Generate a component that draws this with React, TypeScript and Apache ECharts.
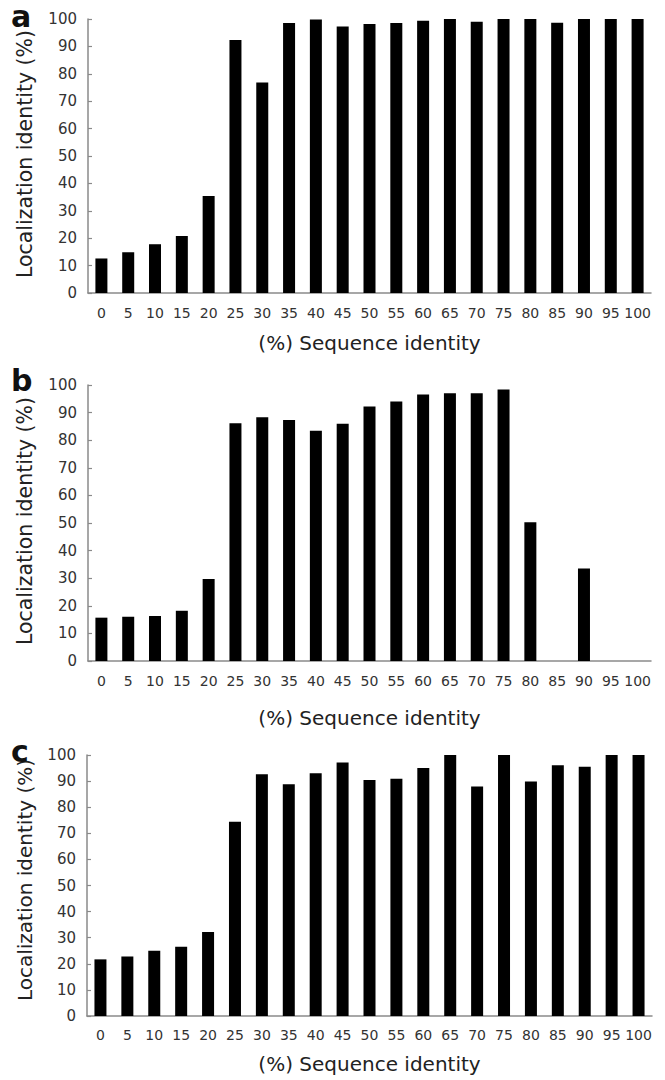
import React, { useEffect, useRef } from "react";
import * as echarts from "echarts";

const categories = ["0", "5", "10", "15", "20", "25", "30", "35", "40", "45", "50", "55", "60", "65", "70", "75", "80", "85", "90", "95", "100"];

const valuesA = [12.6, 14.9, 17.8, 20.8, 35.4, 92.3, 76.8, 98.5, 99.8, 97.3, 98.2, 98.5, 99.4, 100, 99.0, 100, 100, 98.6, 100, 100, 100];
const valuesB = [15.7, 16.0, 16.3, 18.2, 29.7, 86.1, 88.3, 87.3, 83.4, 86.0, 92.2, 94.0, 96.6, 97.0, 97.0, 98.4, 50.3, 0, 33.5, 0, 0];
const valuesC = [21.7, 22.8, 25.0, 26.5, 32.2, 74.4, 92.6, 88.8, 93.0, 97.1, 90.4, 90.9, 95.0, 100, 87.9, 100, 89.8, 96.1, 95.5, 100, 100];

const panelLetters = ["a", "b", "c"];
const xTitle = "(%) Sequence identity";
const yTitle = "Localization identity (%)";

const FONT = "DejaVu Sans";
const AXIS_GRAY = "#8a8a8a";

export default function App() {
  const ref = useRef<HTMLDivElement>(null);

  useEffect(() => {
    if (!ref.current) return;
    const chart = echarts.init(ref.current, null, { renderer: "svg" });

    const grids = [
      { left: 88, width: 563, top: 19, height: 274 },
      { left: 88, width: 563, top: 385, height: 276 },
      { left: 87, width: 565, top: 755, height: 261 },
    ];
    const nameGaps = [40, 47, 38];
    const labelMargins = [13, 13, 12];
    const data = [valuesA, valuesB, valuesC];

    const xAxis = grids.map((_, i) => ({
      type: "category",
      gridIndex: i,
      data: categories,
      boundaryGap: true,
      axisTick: { show: false },
      axisLine: { show: true, lineStyle: { color: AXIS_GRAY, width: 1.5 } },
      axisLabel: {
        interval: 0,
        fontSize: 14,
        fontFamily: FONT,
        color: "#333",
        margin: labelMargins[i],
      },
      name: xTitle,
      nameLocation: "middle",
      nameGap: nameGaps[i],
      nameTextStyle: { fontSize: 20, fontFamily: FONT, color: "#222" },
    }));

    const yAxis = grids.map((_, i) => ({
      type: "value",
      gridIndex: i,
      min: 0,
      max: 100,
      interval: 10,
      axisLine: { show: true, lineStyle: { color: AXIS_GRAY, width: 1.5 } },
      axisTick: { show: true, inside: true, length: 4, lineStyle: { color: AXIS_GRAY, width: 1.2 } },
      splitLine: { show: false },
      axisLabel: { fontSize: 15, fontFamily: FONT, color: "#333", margin: 11 },
    }));

    const series = data.map((d, i) => ({
      type: "bar",
      xAxisIndex: i,
      yAxisIndex: i,
      data: d,
      barWidth: 12,
      itemStyle: { color: "#000" },
    }));

    const yLabelCenters = [154, 521, 880];
    const yLabelSizes = [20.5, 20.5, 20];
    const letterCenters = [16, 380, 751];

    const graphic: any[] = [];
    yLabelCenters.forEach((cy, i) => {
      graphic.push({
        type: "text",
        x: 25,
        y: cy,
        rotation: Math.PI / 2,
        style: {
          text: yTitle,
          fontSize: yLabelSizes[i],
          fontFamily: FONT,
          fill: "#222",
          align: "center",
          verticalAlign: "middle",
        },
      });
      graphic.push({
        type: "text",
        x: 11,
        y: letterCenters[i],
        style: {
          text: panelLetters[i],
          fontSize: 30,
          fontWeight: "bold",
          fontFamily: FONT,
          fill: "#111",
          align: "left",
          verticalAlign: "middle",
        },
      });
    });

    chart.setOption({
      animation: false,
      backgroundColor: "#fff",
      grid: grids,
      xAxis,
      yAxis,
      series,
      graphic,
    });

    return () => chart.dispose();
  }, []);

  return (
    <div
      ref={ref}
      style={{ position: "absolute", left: 0, top: 0, width: 665, height: 1080 }}
    />
  );
}
